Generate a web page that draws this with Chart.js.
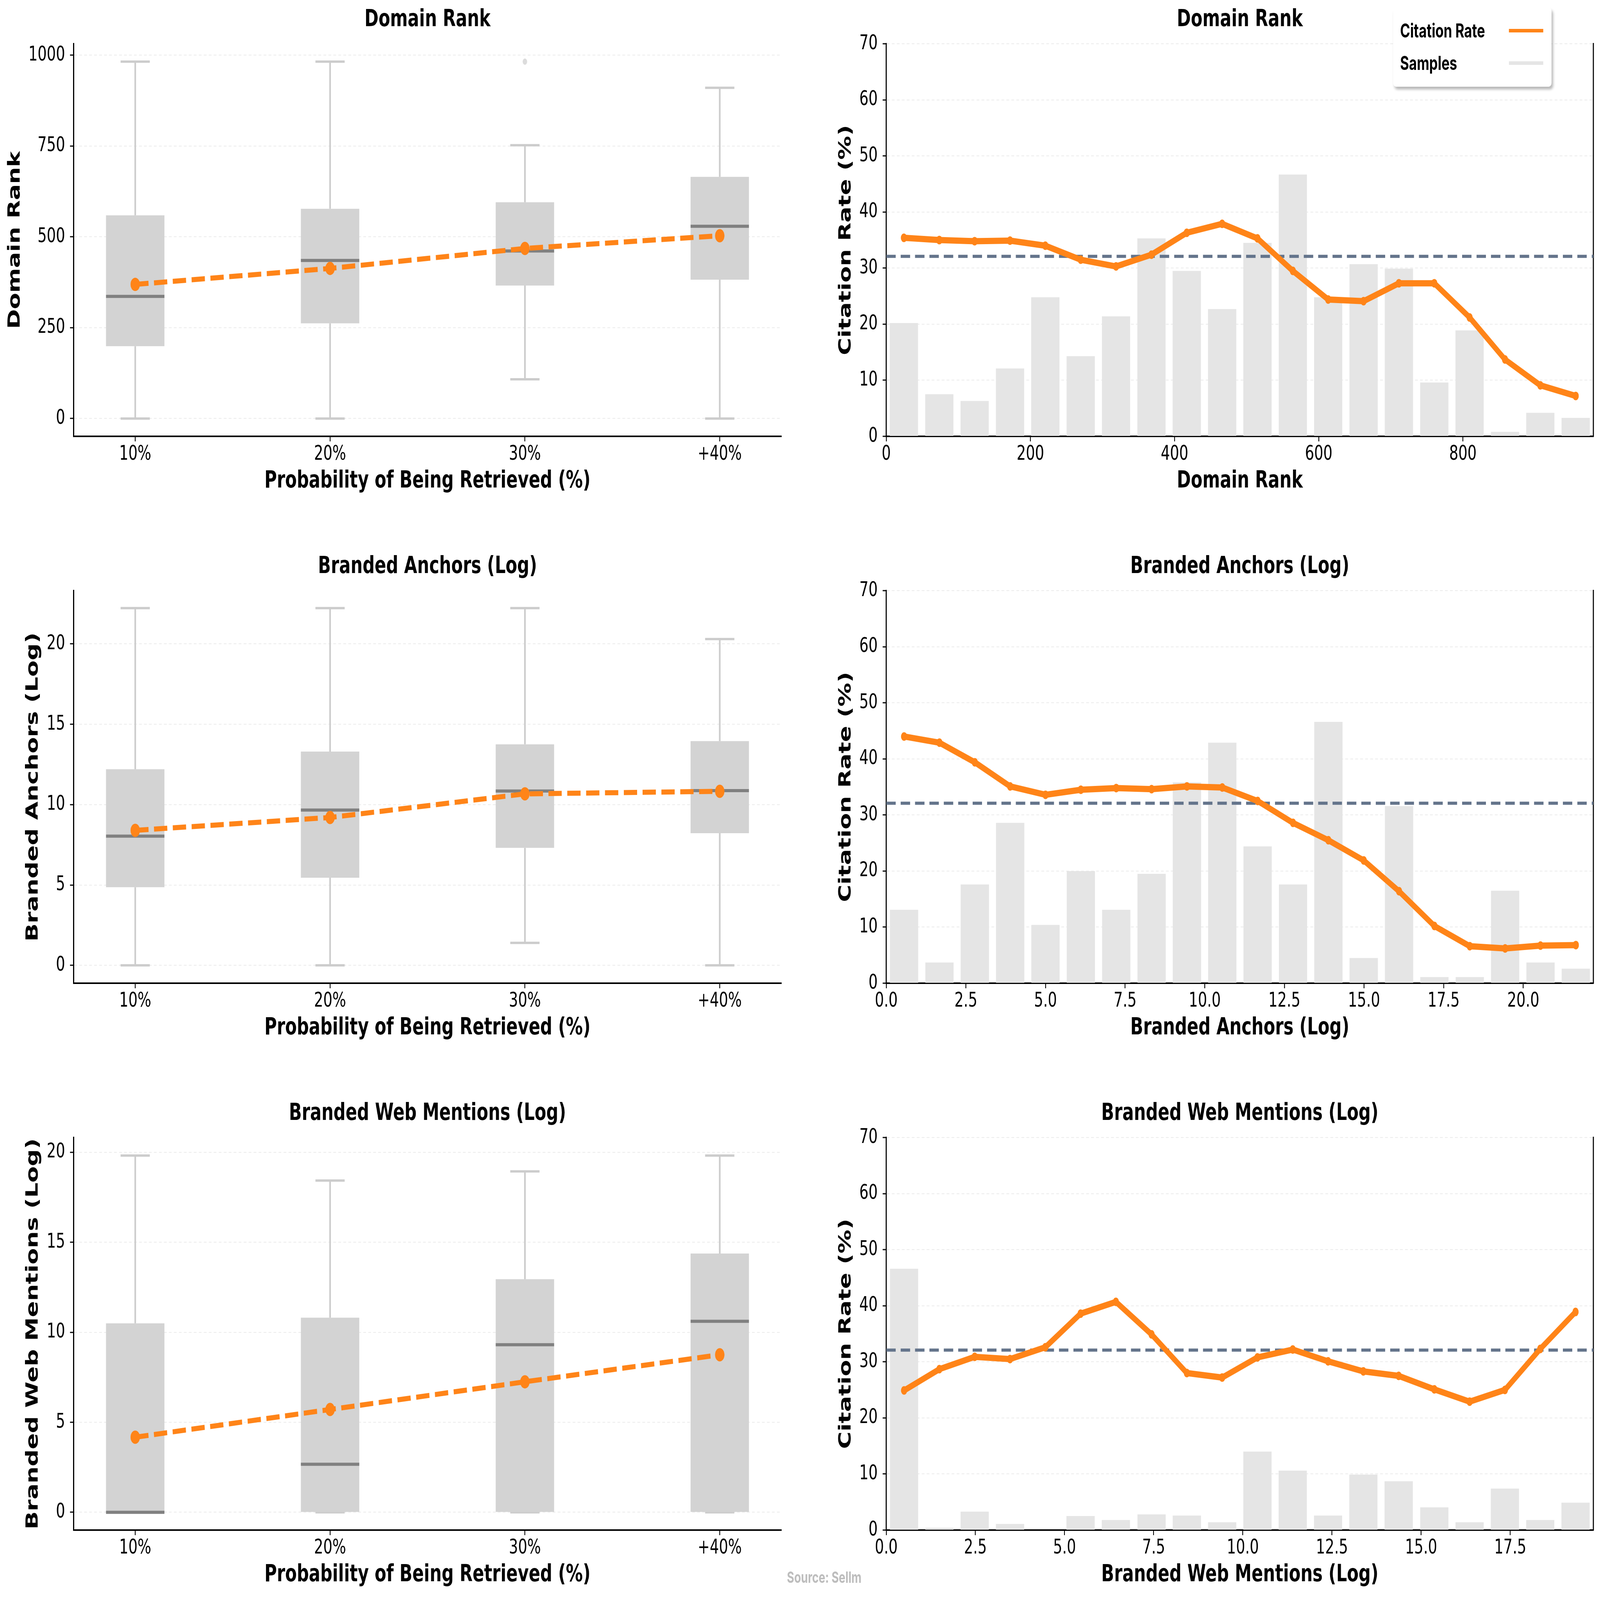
<!DOCTYPE html>
<html>
<head>
<meta charset="utf-8">
<title>Citation rate by feature</title>
<script src="https://cdn.jsdelivr.net/npm/chart.js@4.4.1/dist/chart.umd.min.js"></script>
<style>
  html, body { margin: 0; padding: 0; background: #fff; overflow: hidden; }
  #page { width: 5779px; height: 4096px; position: relative; overflow: hidden; transform-origin: 0 0; }
  .panel { position: absolute; }
  .panel canvas { display: block; }
  #legend {
    position: absolute; left: 5032px; top: 19px; width: 572px; height: 203px;
    box-sizing: border-box; padding: 18px 0 0 25px;
    background: #fff; border-radius: 10px;
    box-shadow: 5px 7px 8px rgba(0, 0, 0, 0.28);
    font: bold 49px Inter, sans-serif; color: #000;
  }
  #legend .item { position: relative; height: 83px; display: flex; align-items: center; }
  #legend .swatch { position: absolute; left: 393px; width: 124px; height: 9px; }
  #source {
    position: absolute; left: 2977px; top: 4037px; transform: translate(-50%, -50%);
    font: bold 40px Inter, sans-serif; color: #bdbdbd; white-space: nowrap;
  }
</style>
</head>
<body>
<div id="page">
<div class="panel" style="left:0;top:0;width:2880px;height:1400px"><canvas id="boxRank"></canvas></div>
<div class="panel" style="left:2900px;top:0;width:2879px;height:1400px"><canvas id="rateRank"></canvas></div>
<div class="panel" style="left:0;top:1400px;width:2880px;height:1400px"><canvas id="boxAnchors"></canvas></div>
<div class="panel" style="left:2900px;top:1400px;width:2879px;height:1400px"><canvas id="rateAnchors"></canvas></div>
<div class="panel" style="left:0;top:2800px;width:2880px;height:1400px"><canvas id="boxMentions"></canvas></div>
<div class="panel" style="left:2900px;top:2800px;width:2879px;height:1400px"><canvas id="rateMentions"></canvas></div>
<div id="legend"></div>
<div id="source">Source: Sellm</div>
</div>

<script>
// ---- data ----
const groups = ['10%', '20%', '30%', '+40%'];
const groupPos = [1, 2, 3, 4];

// Domain Rank by retrieval probability
const rankMin = [0, 0, 108, 0];
const rankQ1 = [199, 262, 366, 382];
const rankMedian = [336, 435, 461, 529];
const rankQ3 = [559, 577, 595, 665];
const rankMax = [982, 982, 752, 910];
const rankMean = [369, 413, 468, 503];
const rankOutlierPos = [3];
const rankOutlierVal = [982];

// Branded Anchors (Log)
const anchorMin = [0, 0, 1.4, 0];
const anchorQ1 = [4.86, 5.45, 7.31, 8.22];
const anchorMedian = [8.04, 9.66, 10.85, 10.87];
const anchorQ3 = [12.2, 13.3, 13.75, 13.95];
const anchorMax = [22.23, 22.23, 22.23, 20.3];
const anchorMean = [8.4, 9.2, 10.67, 10.83];

// Branded Web Mentions (Log)
const mentionMin = [0, 0, 0, 0];
const mentionQ1 = [0, 0, 0, 0];
const mentionMedian = [0, 2.67, 9.31, 10.61];
const mentionQ3 = [10.5, 10.81, 12.95, 14.38];
const mentionMax = [19.82, 18.43, 18.94, 19.82];
const mentionMean = [4.17, 5.71, 7.25, 8.75];

// citation rate per bin (bin centres, rate %, scaled sample bars)
const rankBins = [24.5, 73.6, 122.6, 171.7, 220.7, 269.8, 318.8, 367.9, 416.9, 466.0,
                  515.0, 564.1, 613.1, 662.2, 711.2, 760.3, 809.3, 858.4, 907.4, 956.5];
const rankRate = [35.4, 35.0, 34.8, 34.9, 34.0, 31.5, 30.3, 32.4, 36.3, 37.9,
                  35.3, 29.5, 24.4, 24.1, 27.3, 27.3, 21.2, 13.7, 9.1, 7.2];
const rankSamples = [20.2, 7.5, 6.3, 12.1, 24.8, 14.3, 21.4, 35.3, 29.5, 22.7,
                     34.5, 46.7, 24.8, 30.7, 29.9, 9.6, 18.9, 0.8, 4.2, 3.3];

const anchorBins = [0.56, 1.67, 2.78, 3.89, 5.0, 6.11, 7.22, 8.33, 9.44, 10.55,
                    11.66, 12.77, 13.88, 14.99, 16.1, 17.21, 18.32, 19.43, 20.54, 21.65];
const anchorRate = [44.0, 42.9, 39.4, 35.1, 33.6, 34.5, 34.8, 34.6, 35.1, 34.9,
                    32.5, 28.6, 25.5, 21.9, 16.4, 10.2, 6.6, 6.2, 6.7, 6.8];
const anchorSamples = [13.1, 3.7, 17.6, 28.6, 10.4, 20.0, 13.1, 19.5, 35.8, 42.9,
                       24.4, 17.6, 46.6, 4.5, 31.6, 1.1, 1.1, 16.5, 3.7, 2.6];

const mentionBins = [0.50, 1.49, 2.48, 3.47, 4.46, 5.45, 6.44, 7.44, 8.43, 9.42,
                     10.41, 11.40, 12.39, 13.38, 14.37, 15.37, 16.36, 17.35, 18.34, 19.33];
const mentionRate = [24.9, 28.7, 30.9, 30.5, 32.6, 38.6, 40.7, 34.9, 28.0, 27.2,
                     30.8, 32.2, 30.1, 28.3, 27.5, 25.1, 22.9, 25.0, 32.3, 38.9];
const mentionSamples = [46.6, 0.4, 3.3, 1.1, 0, 2.5, 1.8, 2.8, 2.6, 1.4,
                        14.0, 10.6, 2.6, 9.9, 8.7, 4.05, 1.4, 7.4, 1.8, 4.9];

const overallRate = [32.1, 32.1, 32.1];

// tick labels
const rankTicks = [0, 250, 500, 750, 1000];
const anchorTicks = [0, 5, 10, 15, 20];
const mentionTicks = [0, 5, 10, 15, 20];
const rateTicks = [0, 10, 20, 30, 40, 50, 60, 70];
const rankBinTicks = [0, 200, 400, 600, 800];
const anchorBinTicks = [0, 2.5, 5, 7.5, 10, 12.5, 15, 17.5, 20];
const anchorBinLabels = ['0.0', '2.5', '5.0', '7.5', '10.0', '12.5', '15.0', '17.5', '20.0'];
const mentionBinTicks = [0, 2.5, 5, 7.5, 10, 12.5, 15, 17.5];
const mentionBinLabels = ['0.0', '2.5', '5.0', '7.5', '10.0', '12.5', '15.0', '17.5'];

// the page is laid out at 5779x4096; stretch it onto the window we actually get
const page = document.getElementById('page');
const sx = window.innerWidth / 5779, sy = window.innerHeight / 4096;
if (Math.abs(sx - 1) > 0.001 || Math.abs(sy - 1) > 0.001) {
  page.style.transform = 'scale(' + sx + ',' + sy + ')';
}

// ---- styling ----
Chart.defaults.font.family = "'DejaVu Sans', sans-serif";
Chart.defaults.color = '#000';
Chart.defaults.animation = false;

const ORANGE = '#ff8418';
const TICK_FONT = { size: 52 };
const LABEL_FONT = { size: 61, weight: 'bold', lineHeight: 1.2 };

function fixedTicks(values) {
  return function (scale) { scale.ticks = values.map(v => ({ value: v })); };
}

function yAxis(min, max, ticks, labels, title, titlePad, width) {
  return {
    type: 'linear', position: 'left', min: min, max: max,
    afterBuildTicks: fixedTicks(ticks),
    afterFit: function (scale) { scale.width = width; },
    ticks: { font: TICK_FONT, padding: 18, callback: (v, i) => labels ? labels[i] : String(v) },
    grid: { color: '#ebebeb', lineWidth: 2, tickColor: '#000', tickWidth: 3, tickLength: 13, tickBorderDash: [] },
    border: { color: '#000', width: 4, dash: [10, 8] },
    title: { display: true, text: title, font: LABEL_FONT, padding: { top: titlePad, bottom: 0 } }
  };
}

function xAxis(min, max, ticks, labels, title) {
  return {
    type: 'linear', position: 'bottom', min: min, max: max, offset: false,
    afterBuildTicks: fixedTicks(ticks),
    afterFit: function (scale) { scale.height = 283; },
    ticks: { font: TICK_FONT, padding: 2, maxRotation: 0, autoSkip: false,
             callback: (v, i) => labels ? labels[i] : String(v) },
    grid: { offset: false, drawOnChartArea: false, tickColor: '#000', tickWidth: 3, tickLength: 13 },
    border: { color: '#000', width: 4 },
    title: { display: true, text: title, font: LABEL_FONT, padding: { top: 0, bottom: 131 } }
  };
}

function plotTitle(text) {
  return { display: true, text: text, fullSize: false, font: LABEL_FONT, padding: { top: 15, bottom: 24 } };
}

function makeBoxChart(id, s) {
  const boxExtras = {
    id: 'boxExtras',
    beforeDatasetsDraw(chart) {
      const x = chart.scales.x, y = chart.scales.y, ctx = chart.ctx;
      ctx.save();
      ctx.strokeStyle = '#cccccc';
      ctx.lineWidth = 6;
      groupPos.forEach((p, i) => {
        const px = x.getPixelForValue(p);
        const c0 = x.getPixelForValue(p - 0.075), c1 = x.getPixelForValue(p + 0.075);
        const yMin = y.getPixelForValue(s.min[i]), yMax = y.getPixelForValue(s.max[i]);
        ctx.beginPath();
        ctx.moveTo(px, y.getPixelForValue(s.q1[i])); ctx.lineTo(px, yMin);
        ctx.moveTo(px, y.getPixelForValue(s.q3[i])); ctx.lineTo(px, yMax);
        ctx.moveTo(c0, yMin); ctx.lineTo(c1, yMin);
        ctx.moveTo(c0, yMax); ctx.lineTo(c1, yMax);
        ctx.stroke();
      });
      ctx.restore();
    },
    afterDatasetDraw(chart, args) {
      if (args.index !== 0) return;
      const x = chart.scales.x, y = chart.scales.y, ctx = chart.ctx;
      ctx.save();
      ctx.strokeStyle = '#808080';
      ctx.lineWidth = 8;
      groupPos.forEach((p, i) => {
        const py = y.getPixelForValue(s.median[i]);
        ctx.beginPath();
        ctx.moveTo(x.getPixelForValue(p - 0.15), py);
        ctx.lineTo(x.getPixelForValue(p + 0.15), py);
        ctx.stroke();
      });
      ctx.restore();
    }
  };

  const datasets = [
    {
      type: 'bar', label: 'IQR', order: 2,
      data: groupPos.map((p, i) => ({ x: p, y: [s.q1[i], s.q3[i]] })),
      backgroundColor: '#d3d3d3', borderWidth: 0,
      barPercentage: 0.3, categoryPercentage: 1.0, grouped: false
    },
    {
      type: 'line', label: 'Outliers', order: 1, showLine: false,
      data: (s.outPos || []).map((p, i) => ({ x: p, y: s.outVal[i] })),
      pointRadius: 8, pointBackgroundColor: '#dcdcdc', pointBorderWidth: 0
    },
    {
      type: 'line', label: 'Mean', order: 0,
      data: groupPos.map((p, i) => ({ x: p, y: s.mean[i] })),
      borderColor: ORANGE, borderWidth: 13, borderDash: [48, 20], tension: 0,
      pointRadius: 17, pointBackgroundColor: ORANGE, pointBorderWidth: 0
    }
  ];

  return new Chart(document.getElementById(id), {
    type: 'bar',
    data: { datasets: datasets },
    options: {
      responsive: true, maintainAspectRatio: false, devicePixelRatio: 1,
      layout: { padding: { left: 0, right: 58, top: 0, bottom: 0 } },
      scales: {
        x: xAxis(0.684, 4.316, groupPos, groups, 'Probability of Being Retrieved (%)'),
        y: yAxis(s.ymin, s.ymax, s.ticks, null, s.name, s.titlePad, 266)
      },
      plugins: { legend: { display: false }, tooltip: { enabled: false }, title: plotTitle(s.name) }
    },
    plugins: [boxExtras]
  });
}

function makeRateChart(id, s) {
  const baseline = {
    id: 'baseline',
    afterDatasetDraw(chart, args) {
      if (args.index !== 1) return;
      const y = chart.scales.y, area = chart.chartArea, ctx = chart.ctx;
      const py = y.getPixelForValue(s.overall);
      ctx.save();
      ctx.strokeStyle = '#64748b';
      ctx.lineWidth = 8;
      ctx.setLineDash([34, 18]);
      ctx.beginPath();
      ctx.moveTo(area.left, py);
      ctx.lineTo(area.right, py);
      ctx.stroke();
      ctx.restore();
    }
  };

  const datasets = [
    {
      type: 'line', label: 'Citation Rate', order: 0,
      data: s.bins.map((b, i) => ({ x: b, y: s.rate[i] })),
      borderColor: ORANGE, backgroundColor: ORANGE, borderWidth: 16, tension: 0,
      pointRadius: 11, pointBackgroundColor: ORANGE, pointBorderWidth: 0
    },
    {
      type: 'bar', label: 'Samples', order: 1,
      data: s.bins.map((b, i) => ({ x: b, y: s.samples[i] })),
      backgroundColor: '#e5e5e5', borderWidth: 0,
      barPercentage: 0.8, categoryPercentage: 1.0, grouped: false
    }
  ];

  return new Chart(document.getElementById(id), {
    type: 'bar',
    data: { datasets: datasets },
    options: {
      responsive: true, maintainAspectRatio: false, devicePixelRatio: 1,
      layout: { padding: { left: 0, right: 24, top: 0, bottom: 0 } },
      scales: {
        x: xAxis(0, s.xmax, s.xticks, s.xlabels, s.name),
        y: yAxis(0, 70, rateTicks, null, 'Citation Rate (%)', 120, 301),
        y2: {
          type: 'linear', position: 'right', min: 0, max: 70, display: true,
          afterFit: function (scale) { scale.width = 0; },
          ticks: { display: false },
          grid: { display: false, drawTicks: false },
          border: { color: '#000', width: 4 }
        }
      },
      plugins: { legend: { display: false }, tooltip: { enabled: false }, title: plotTitle(s.name) }
    },
    plugins: [baseline]
  });
}

// ---- charts ----
makeBoxChart('boxRank', {
  name: 'Domain Rank', ymin: -49, ymax: 1031, ticks: rankTicks, titlePad: 19,
  min: rankMin, q1: rankQ1, median: rankMedian, q3: rankQ3, max: rankMax, mean: rankMean,
  outPos: rankOutlierPos, outVal: rankOutlierVal
});
makeBoxChart('boxAnchors', {
  name: 'Branded Anchors (Log)', ymin: -1.11, ymax: 23.31, ticks: anchorTicks, titlePad: 84,
  min: anchorMin, q1: anchorQ1, median: anchorMedian, q3: anchorQ3, max: anchorMax, mean: anchorMean
});
makeBoxChart('boxMentions', {
  name: 'Branded Web Mentions (Log)', ymin: -0.99, ymax: 20.82, ticks: mentionTicks, titlePad: 84,
  min: mentionMin, q1: mentionQ1, median: mentionMedian, q3: mentionQ3, max: mentionMax, mean: mentionMean
});

const rateRank = makeRateChart('rateRank', {
  name: 'Domain Rank', xmax: 981, xticks: rankBinTicks, xlabels: null,
  bins: rankBins, rate: rankRate, samples: rankSamples, overall: overallRate[0]
});
makeRateChart('rateAnchors', {
  name: 'Branded Anchors (Log)', xmax: 22.2, xticks: anchorBinTicks, xlabels: anchorBinLabels,
  bins: anchorBins, rate: anchorRate, samples: anchorSamples, overall: overallRate[1]
});
makeRateChart('rateMentions', {
  name: 'Branded Web Mentions (Log)', xmax: 19.83, xticks: mentionBinTicks, xlabels: mentionBinLabels,
  bins: mentionBins, rate: mentionRate, samples: mentionSamples, overall: overallRate[2]
});

// legend for the first rate panel, built from its datasets
const legendEl = document.getElementById('legend');
rateRank.data.datasets.forEach(ds => {
  const item = document.createElement('div');
  item.className = 'item';
  const txt = document.createElement('span');
  txt.textContent = ds.label;
  const sw = document.createElement('span');
  sw.className = 'swatch';
  sw.style.background = ds.type === 'line' ? ds.borderColor : ds.backgroundColor;
  item.appendChild(txt);
  item.appendChild(sw);
  legendEl.appendChild(item);
});
</script>
</body>
</html>
